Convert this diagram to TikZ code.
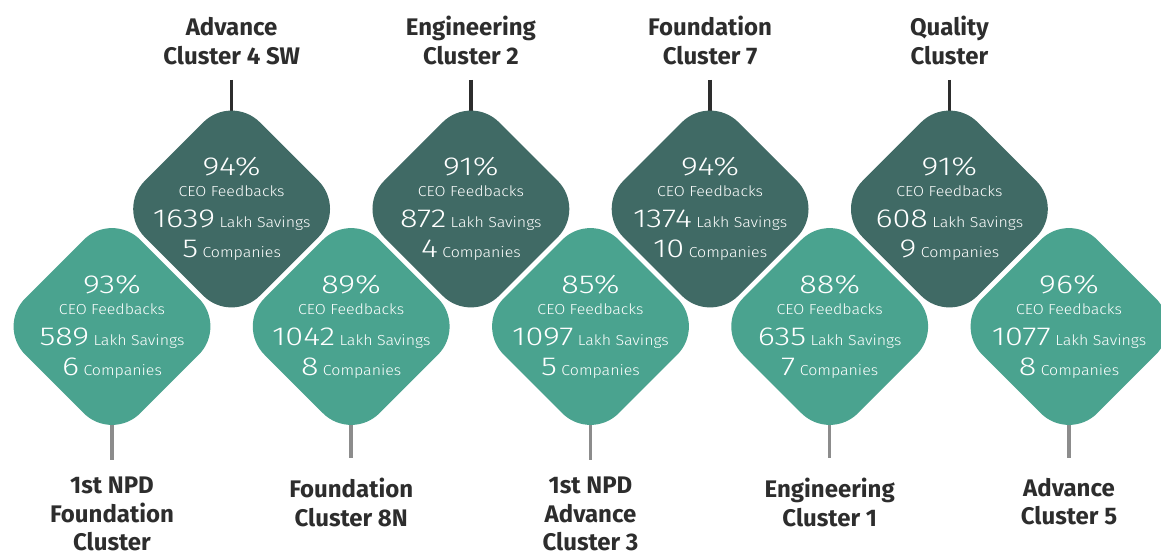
\documentclass[tikz,border=0pt]{standalone}
\usepackage{fontspec}
\setmainfont{Fira Sans}
\newfontfamily\statfont{Fira Sans Light}[FakeStretch=1.1]
\newfontfamily\numfont{Fira Sans Light}[FakeStretch=1.25]
\usepackage{tikz}
\usetikzlibrary{backgrounds}

\definecolor{darkteal}{RGB}{64,106,101}
\definecolor{lightteal}{RGB}{74,163,143}
\definecolor{labelgray}{RGB}{45,45,45}
\definecolor{stemgray}{RGB}{140,140,140}

\newcommand{\bignum}[1]{{\numfont\fontsize{26}{30}\selectfont #1}}
\newcommand{\clusterstats}[3]{\bignum{#1\%}\\[-9pt]CEO Feedbacks\\[1pt]\bignum{#2} Lakh Savings\\\bignum{#3} Companies}

\tikzset{
    dia/.style={rectangle, rotate=45, minimum size=162.6pt, inner sep=0pt, rounded corners=40pt},
    darkdia/.style={dia, fill=darkteal},
    lightdia/.style={dia, fill=lightteal},
    stat/.style={align=center, text=white, font=\statfont\fontsize{14.5}{30}\selectfont, inner sep=0pt},
    lab/.style={align=center, text=labelgray, font=\bfseries\fontsize{24}{28.5}\selectfont, inner sep=0pt},
    topstem/.style={line width=3.5pt, draw=labelgray, shorten <=15pt},
    botstem/.style={line width=3.5pt, draw=stemgray, shorten >=20pt}
}

\begin{document}
\begin{tikzpicture}[x=1pt, y=-1pt]
                \useasboundingbox (0,0) rectangle (1161,556);

                % top row
                \node[darkdia] (d1) at (231.6,209) {};
                \node[darkdia] (d2) at (470.9,209) {};
                \node[darkdia] (d3) at (710.1,209) {};
                \node[darkdia] (d4) at (949.4,209) {};
                \node[stat] (s1) at (d1) {\clusterstats{94}{1639}{5}};
                \node[stat] (s2) at (d2) {\clusterstats{91}{872}{4}};
                \node[stat] (s3) at (d3) {\clusterstats{94}{1374}{10}};
                \node[stat] (s4) at (d4) {\clusterstats{91}{608}{9}};

                % bottom row
                \node[lightdia] (d5) at (112,326.5) {};
                \node[lightdia] (d6) at (351.2,326.5) {};
                \node[lightdia] (d7) at (590.5,326.5) {};
                \node[lightdia] (d8) at (829.7,326.5) {};
                \node[lightdia] (d9) at (1069,326.5) {};
                \node[stat] (s5) at (d5) {\clusterstats{93}{589}{6}};
                \node[stat] (s6) at (d6) {\clusterstats{89}{1042}{8}};
                \node[stat] (s7) at (d7) {\clusterstats{85}{1097}{5}};
                \node[stat] (s8) at (d8) {\clusterstats{88}{635}{7}};
                \node[stat] (s9) at (d9) {\clusterstats{96}{1077}{8}};

                \node[lab, anchor=south] (t1) at (231.6,65) {Advance\\Cluster 4 SW};
                \node[lab, anchor=south] (t2) at (470.9,65) {Engineering\\Cluster 2};
                \node[lab, anchor=south] (t3) at (710.1,65) {Foundation\\Cluster 7};
                \node[lab, anchor=south] (t4) at (949.4,65) {Quality\\Cluster};

                \node[lab, anchor=north] (b1) at (112,477) {1st NPD\\Foundation\\Cluster};
                \node[lab, anchor=north] (b2) at (351.2,478) {Foundation\\Cluster 8N};
                \node[lab, anchor=north] (b3) at (590.5,477) {1st NPD\\Advance\\Cluster 3};
                \node[lab, anchor=north] (b4) at (829.7,478) {Engineering\\Cluster 1};
                \node[lab, anchor=north] (b5) at (1069,478) {Advance\\Cluster 5};

                \begin{scope}[on background layer]
                    \fill[white] (0,0) rectangle (1161,556);
                    \draw[topstem] (t1.south) -- (d1.center);
                    \draw[topstem] (t2.south) -- (d2.center);
                    \draw[topstem] (t3.south) -- (d3.center);
                    \draw[topstem] (t4.south) -- (d4.center);
                    \draw[botstem, shorten >=17pt] (d5.center) -- (b1.north);
                    \draw[botstem] (d6.center) -- (b2.north);
                    \draw[botstem, shorten >=17pt] (d7.center) -- (b3.north);
                    \draw[botstem] (d8.center) -- (b4.north);
                    \draw[botstem] (d9.center) -- (b5.north);
                \end{scope}
\end{tikzpicture}
\end{document}
